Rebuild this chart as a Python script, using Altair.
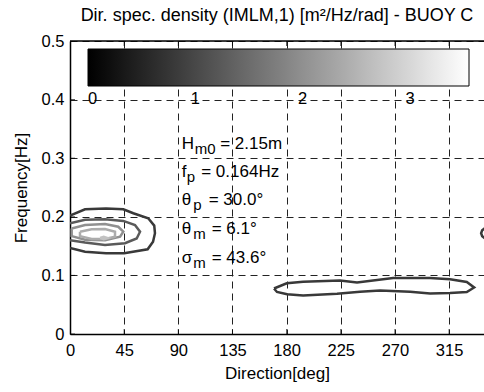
import altair as alt
import pandas as pd

FONT = "Liberation Sans"

# ---- data ----
x_ticks = [0, 45, 90, 135, 180, 225, 270, 315]
y_ticks = [0, 0.1, 0.2, 0.3, 0.4, 0.5]
cbar_ticks = [0, 1, 2, 3]
cbar_max = 3.55

c1_dir = [0, 12.5, 30, 44.3, 52.6, 65, 70, 70.6, 69, 64.5, 45, 30, 12.5, 0]
c1_freq = [0.202, 0.2128, 0.214, 0.2128, 0.206, 0.1974, 0.185, 0.172, 0.1575, 0.1445, 0.1377, 0.1377, 0.1404, 0.147]
c2_dir = [0, 12.5, 29.1, 44.3, 54, 58.2, 55.4, 45.7, 29.1, 12.5, 0]
c2_freq = [0.189, 0.195, 0.196, 0.193, 0.186, 0.1746, 0.163, 0.155, 0.152, 0.156, 0.16]
c3_dir = [1.4, 12.5, 29.1, 40.1, 44.3, 41.6, 29.1, 12.5, 1.4, 1.4]
c3_freq = [0.180, 0.186, 0.1877, 0.183, 0.1746, 0.166, 0.160, 0.161, 0.167, 0.180]
c4_dir = [8.3, 18, 29.1, 37.4, 37.4, 29.1, 18, 8.3, 8.3]
c4_freq = [0.1746, 0.1787, 0.179, 0.1746, 0.166, 0.162, 0.162, 0.167, 0.1746]
c5_dir = [25, 28, 31, 28, 25]
c5_freq = [0.164, 0.166, 0.164, 0.162, 0.164]
c6_dir = [169.5, 180.1, 193.7, 224.4, 238.5, 268.5, 299.2, 315.8, 329.7, 335.8, 329.7, 315.8,
          299.2, 282.6, 257.6, 241, 221.9, 193.7, 180.4, 172, 169.5]
c6_freq = [0.0776, 0.0865, 0.0892, 0.0913, 0.0879, 0.0956, 0.0956, 0.0933, 0.0887, 0.0794, 0.0717,
           0.070, 0.0691, 0.072, 0.0742, 0.072, 0.0686, 0.0657, 0.0677, 0.0717, 0.0776]
c7_dir = [346, 342.5, 341.6, 342.5, 346]
c7_freq = [0.183, 0.177, 0.172, 0.167, 0.161]

contour_levels = [0.8, 1.25, 2.0, 2.4, 2.7, 0.8, 0.8]
contours = [(c1_dir, c1_freq), (c2_dir, c2_freq), (c3_dir, c3_freq), (c4_dir, c4_freq),
            (c5_dir, c5_freq), (c6_dir, c6_freq), (c7_dir, c7_freq)]

ann_base = ["H", "f", "θ", "θ", "σ"]
ann_sub = ["m0", "p", "p", "m", "m"]
ann_rest = ["= 2.15m", "= 0.164Hz", "= 30.0°", "= 6.1°", "= 43.6°"]
ann_dir = 92.8
ann_freq = [0.316, 0.268, 0.220, 0.171, 0.122]
sub_dx = [13, 5, 11.5, 11.5, 11.5]
rest_dx = [38.5, 19.5, 27, 30, 30]

title_text = "Dir. spec. density (IMLM,1) [m²/Hz/rad] - BUOY C"

# ---- tables ----
rows = []
for cid, ((ds, fs), lv) in enumerate(zip(contours, contour_levels)):
    for k, (d, f) in enumerate(zip(ds, fs)):
        rows.append({"cid": cid, "k": k, "dir": d, "freq": f, "level": lv})
cdf = pd.DataFrame(rows)

xscale = alt.Scale(domain=[0, 344], nice=False, zero=False)
yscale = alt.Scale(domain=[0, 0.5], nice=False, zero=False)

x_axis = alt.Axis(values=x_ticks, title="Direction[deg]", grid=True, ticks=False,
                  gridDash=[7, 5], gridColor="#222", gridWidth=1,
                  domainColor="black", domainWidth=1.5,
                  labelFont=FONT, labelFontSize=16.5, labelColor="black", labelPadding=8,
                  titleFont=FONT, titleFontSize=17, titleFontWeight="normal", titleColor="black",
                  titlePadding=7, labelFlush=False)
y_axis = alt.Axis(values=y_ticks, title="Frequency[Hz]", grid=True, ticks=False,
                  gridDash=[7, 5], gridColor="#222", gridWidth=1,
                  domainColor="black", domainWidth=1.5, format="~g",
                  labelFont=FONT, labelFontSize=16.5, labelColor="black", labelPadding=6,
                  titleFont=FONT, titleFontSize=17, titleFontWeight="normal", titleColor="black",
                  titlePadding=11, labelFlush=False)

xenc = alt.X("dir:Q", scale=xscale, axis=x_axis)
yenc = alt.Y("freq:Q", scale=yscale, axis=y_axis)

color = alt.Color("level:Q",
                  scale=alt.Scale(domain=[0, cbar_max], range=["black", "white"], interpolate="rgb"),
                  legend=alt.Legend(orient="none", legendX=18, legendY=8, direction="horizontal",
                                    gradientLength=381, gradientThickness=37, title=None,
                                    values=cbar_ticks, format="d", labelFont=FONT, labelFontSize=16.5,
                                    labelColor="black", labelOffset=5, labelAlign="center",
                                    gradientStrokeColor="black", gradientStrokeWidth=1, padding=0))

lines = alt.Chart(cdf).mark_line(strokeWidth=2.5, clip=True).encode(
    x=xenc, y=yenc, color=color, detail="cid:N", order="k:Q")

xt = pd.DataFrame({"dir": x_ticks})
yt = pd.DataFrame({"freq": y_ticks})
top_ticks = alt.Chart(xt).mark_tick(orient="vertical", size=10, thickness=1, color="black", clip=True).encode(
    x=alt.X("dir:Q", scale=xscale), y=alt.datum(0.5))
bot_ticks = alt.Chart(xt).mark_tick(orient="vertical", size=10, thickness=1, color="black", clip=True).encode(
    x=alt.X("dir:Q", scale=xscale), y=alt.datum(0))
left_ticks = alt.Chart(yt).mark_tick(orient="horizontal", size=10, thickness=1, color="black", clip=True).encode(
    y=alt.Y("freq:Q", scale=yscale), x=alt.datum(0))
top_border = alt.Chart(pd.DataFrame({"freq": [0.5]})).mark_rule(color="black", strokeWidth=1.5).encode(
    y=alt.Y("freq:Q", scale=yscale))

texts = []
for i in range(len(ann_base)):
    row = pd.DataFrame({"dir": [ann_dir], "freq": [ann_freq[i]], "b": [ann_base[i]],
                        "s": [ann_sub[i]], "r": [ann_rest[i]]})
    base = alt.Chart(row).encode(x=alt.X("dir:Q", scale=xscale), y=alt.Y("freq:Q", scale=yscale))
    texts.append(base.mark_text(align="left", baseline="alphabetic", font=FONT, fontSize=17,
                                color="black").encode(text="b:N"))
    texts.append(base.mark_text(align="left", baseline="alphabetic", font=FONT, fontSize=15,
                                color="black", dx=sub_dx[i], dy=5).encode(text="s:N"))
    texts.append(base.mark_text(align="left", baseline="alphabetic", font=FONT, fontSize=17,
                                color="black", dx=rest_dx[i]).encode(text="r:N"))

chart = alt.layer(top_ticks, bot_ticks, left_ticks, lines, *texts, top_border).properties(
    width=414, height=293,
    title=alt.TitleParams(title_text, font=FONT, fontSize=18, fontWeight="normal", color="black",
                          anchor="middle", offset=8),
    autosize=alt.AutoSizeParams(type="none"),
    padding={"left": 70, "top": 41, "right": 0, "bottom": 58},
).configure_view(stroke=None).configure(background="white")

chart.save("out.html", embed_options={"renderer": "svg", "actions": False})
